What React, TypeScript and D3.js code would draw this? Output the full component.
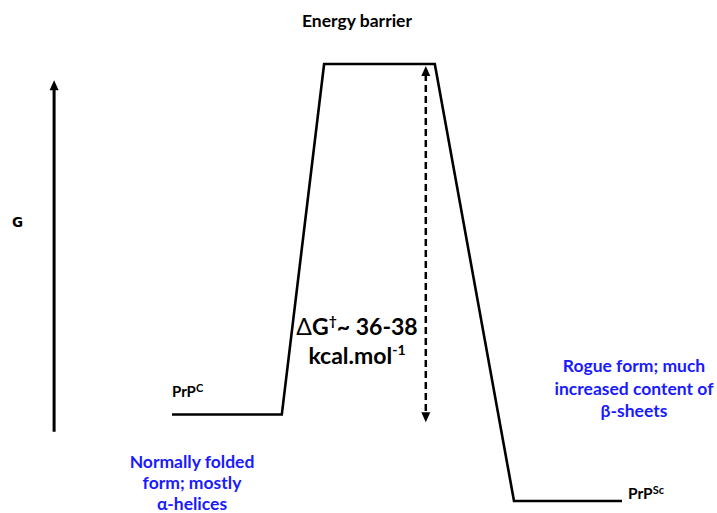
import React from 'react';
import * as d3 from 'd3';

// reaction coordinate (0..100) and free energy (kcal/mol, PrPSc = 0)
const profileX = [0, 24.4, 33.8, 58.4, 76, 100];
const profileG = [9.1, 9.1, 46, 46, 0, 0];

const axisG = [7.3, 44.3];
const axisX = -26.2;
const barrierX = 56.4;
const barrierG = [46, 8.3];

const normalLines = ['Normally folded', 'form; mostly', '\u03B1-helices'];
const rogueLines = ['Rogue form; much', 'increased content of', '\u03B2-sheets'];

const W = 717;
const H = 513;
const BLUE = '#1a1aff';
const FONT = 'Lato, "Open Sans", sans-serif';

export default function App() {
  const x = d3.scaleLinear().domain([0, 100]).range([172, 622]);
  const y = d3.scaleLinear().domain([0, 46]).range([501, 64]);

  const line = d3.line<number>()
    .x((_, i) => x(profileX[i]))
    .y(d => y(d));

  const ax = x(axisX);
  const bx = x(barrierX);
  const bTop = y(barrierG[0]) + 2;
  const bBot = y(barrierG[1]);

  return (
    <svg width={W} height={H} style={{ position: 'absolute', left: 0, top: 0, background: '#fff' }}
      fontFamily={FONT} fontWeight={700}>
      {/* G axis */}
      <line x1={ax} x2={ax} y1={y(axisG[0])} y2={y(axisG[1]) + 8} stroke="#000" strokeWidth={3} />
      <path d={`M${ax - 4.5},${y(axisG[1]) + 10} L${ax},${y(axisG[1])} L${ax + 4.5},${y(axisG[1]) + 10} Z`} fill="#000" />
      <text x={12} y={227} fontFamily='"DejaVu Sans", sans-serif' fontSize={13.5}>G</text>

      {/* energy profile */}
      <path d={line(profileG) || ''} fill="none" stroke="#000" strokeWidth={2.6} strokeLinejoin="miter" />

      {/* barrier arrow */}
      <line x1={bx} x2={bx} y1={bTop + 8} y2={bBot - 8} stroke="#000" strokeWidth={2.5} strokeDasharray="7,4" />
      <path d={`M${bx - 4.5},${bTop + 10} L${bx},${bTop} L${bx + 4.5},${bTop + 10} Z`} fill="#000" />
      <path d={`M${bx - 4.5},${bBot - 10} L${bx},${bBot} L${bx + 4.5},${bBot - 10} Z`} fill="#000" />

      {/* labels */}
      <text x={357} y={27} textAnchor="middle" fontSize={17.5}>Energy barrier</text>
      <text x={357} y={335} textAnchor="middle" fontSize={23}>
        <tspan fontWeight={400}>{'\u0394'}</tspan>G<tspan fontSize={14} dy={-9}>{'\u2020'}</tspan>
        <tspan dy={9}>~ 36-38</tspan>
      </text>
      <text x={357} y={364} textAnchor="middle" fontSize={23}>
        kcal.mol<tspan fontSize={14} dy={-9}>-1</tspan>
      </text>

      <text x={172} y={397} fontSize={15}>PrP<tspan fontSize={11} dy={-5}>C</tspan></text>
      <text x={628} y={499} fontSize={15.5}>PrP<tspan fontSize={11} dy={-5}>Sc</tspan></text>

      {normalLines.map((t, i) => (
        <text key={t} x={192} y={468 + i * 21} textAnchor="middle" fontSize={17.5} fill={BLUE}>{t}</text>
      ))}
      {rogueLines.map((t, i) => (
        <text key={t} x={634} y={372 + i * 22.5} textAnchor="middle" fontSize={17.5} fill={BLUE}>{t}</text>
      ))}
    </svg>
  );
}
